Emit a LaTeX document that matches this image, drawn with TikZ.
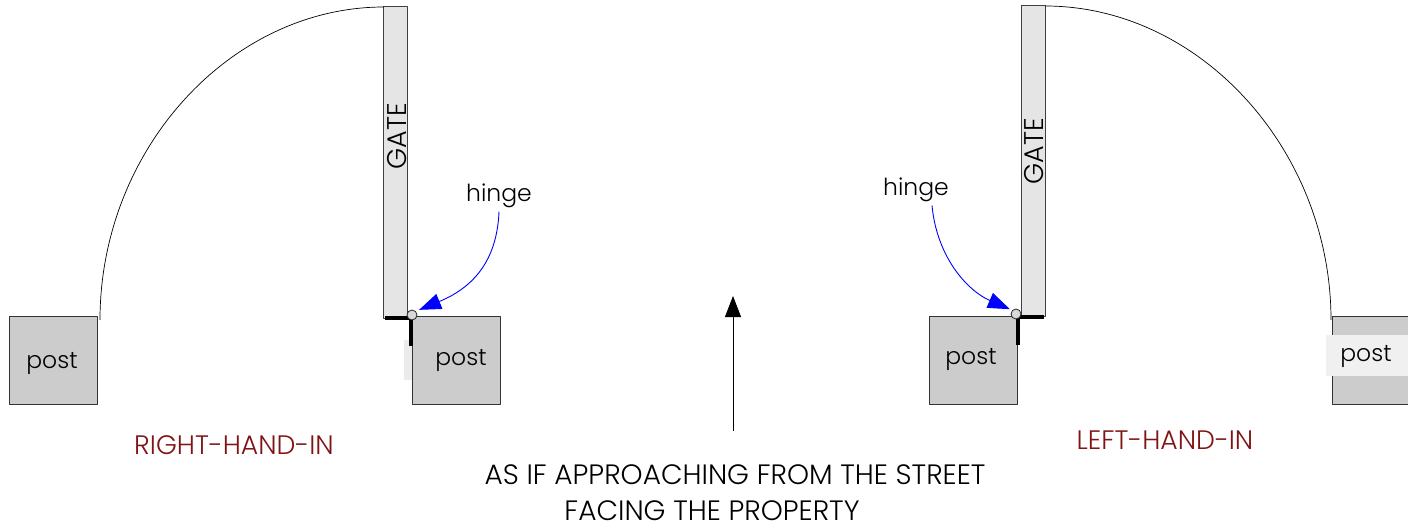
\documentclass[tikz,border=0pt]{standalone}
\usepackage{fontspec}
\setmainfont{Poppins Light}
\usetikzlibrary{arrows.meta}
\definecolor{darkred}{RGB}{128,20,20}
\tikzset{
  post/.style={draw=black!80,fill=black!20,minimum size=88pt,inner sep=0pt,line width=.9pt,anchor=north west},
  gatebar/.style={draw=black!75,fill=black!10,line width=.9pt,minimum width=24pt,inner sep=0pt,anchor=north west},
  hingept/.style={circle,draw=black!85,fill=black!15,minimum size=10pt,inner sep=0pt,line width=.8pt},
  swing/.style={line width=.7pt},
  stop/.style={line width=3.2pt},
  pointer/.style={blue,line width=.9pt,-{Triangle[length=22pt,width=16pt]}},
  word/.style={font=\fontsize{23.5}{28}\selectfont},
  capsword/.style={font=\fontsize{28}{34}\selectfont},
  gatename/.style={font=\fontsize{27}{32}\selectfont,rotate=90},
  sidename/.style={font=\fontsize{26.7}{32}\selectfont,text=darkred},
}
\begin{document}
\begin{tikzpicture}[x=1pt,y=-1pt,line join=round]
\useasboundingbox (0,0) rectangle (1408,529);
% left gate
\node[post] (postA) at (9,316) {};
\node[word] at (52,364) {post};
\fill[black!8] (404,340) rectangle (413,380);
\node[post] (postB) at (412,316) {};
\node[word] (postBtext) at (461,361) {post};
\node[gatebar,minimum height=311pt] (gateL) at (383,6.5) {};
\node[gatename] at (397,136) {GATE};
\coordinate (arcAs) at (100,320);
\coordinate (arcAe) at (384,7);
\draw[swing] (arcAs) .. controls (100,150) and (230,7) .. (arcAe);
\draw[stop] (385,318)--(412,318) (411,318)--(411,346);
\node[hingept] (hingeL) at (412,315) {};
\node[word] (hingeLabelL) at (499,196) {hinge};
\draw[pointer,shorten >=3.5pt] (hingeLabelL.south) ..controls (497,262) and (472,288) .. (hingeL.north east);
\node[sidename] at (234,445) {RIGHT-HAND-IN};
% right gate
\node[post] (postC) at (929,316) {};
\node[word] at (971,360) {post};
\node[post] (postD) at (1332,316) {};
\fill[black!6] (1326,335) rectangle (1408,376);
\node[word] at (1366,357) {post};
\node[gatebar,minimum height=311pt] (gateR) at (1020.5,5.5) {};
\node[gatename] at (1034,151) {GATE};
\coordinate (arcBs) at (1045,6);
\coordinate (arcBe) at (1331,320);
\draw[swing] (arcBs) .. controls (1200,6) and (1331,150) .. (arcBe);
\draw[stop] (1017,317)--(1044,317) (1018,317)--(1018,345);
\node[hingept] (hingeR) at (1016,314) {};
\node[word] (hingeLabelR) at (916,190) {hinge};
\draw[pointer,shorten >=2.5pt] ([xshift=16pt]hingeLabelR.south) ..controls (937,258) and (968,291) .. (hingeR.north west);
\node[sidename] at (1165,440) {LEFT-HAND-IN};
% street direction
\coordinate (streetFrom) at (733,431);
\coordinate (streetTo) at (733,296);
\draw[line width=.8pt,-{Triangle[length=21pt,width=16pt]}] (streetFrom)--(streetTo);
\node[capsword] at (735,475) {AS IF APPROACHING FROM THE STREET};
\node[capsword] at (712,511) {FACING THE PROPERTY};
\end{tikzpicture}
\end{document}
